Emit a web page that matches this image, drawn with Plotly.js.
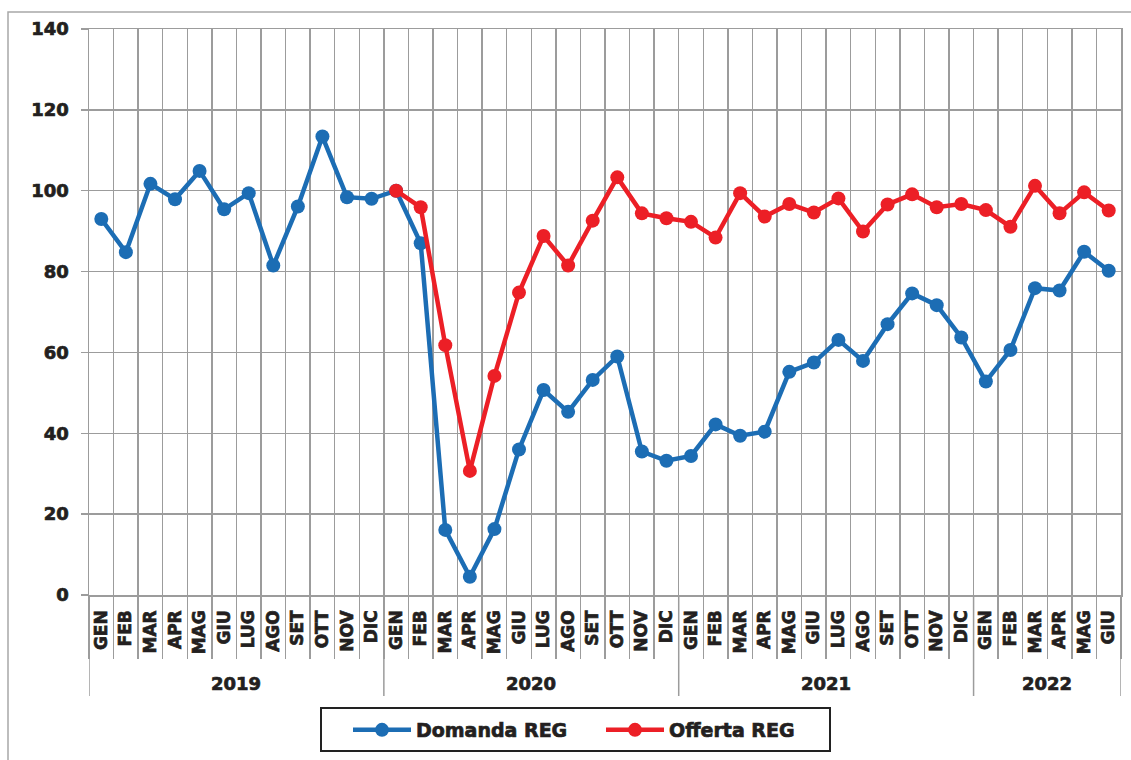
<!DOCTYPE html>
<html>
<head>
<meta charset="utf-8">
<script src="https://cdn.plot.ly/plotly-3.0.1.min.js"></script>
<style>
html,body{margin:0;padding:0;background:#fff;}
#chart{width:1131px;height:760px;}
#chart text{stroke:#231f20;stroke-width:0.7px;paint-order:stroke;}
</style>
</head>
<body>
<div id="chart"></div>
<script>
const months = ["GEN","FEB","MAR","APR","MAG","GIU","LUG","AGO","SET","OTT","NOV","DIC",
                "GEN","FEB","MAR","APR","MAG","GIU","LUG","AGO","SET","OTT","NOV","DIC",
                "GEN","FEB","MAR","APR","MAG","GIU","LUG","AGO","SET","OTT","NOV","DIC",
                "GEN","FEB","MAR","APR","MAG","GIU"];
const years = ["2019","2020","2021","2022"];
const yearCounts = [12,12,12,6];
const domanda = [93.0,84.8,101.7,97.9,104.9,95.4,99.4,81.5,96.1,113.4,98.4,98.0,
                 100.0,87.0,16.1,4.5,16.3,36.0,50.7,45.3,53.2,59.0,35.5,33.2,
                 34.4,42.2,39.4,40.4,55.2,57.5,63.1,57.9,67.0,74.6,71.7,63.7,
                 52.8,60.6,75.9,75.3,84.9,80.2];
const offerta = [null,null,null,null,null,null,null,null,null,null,null,null,
                 100.0,95.9,61.8,30.7,54.2,74.8,88.8,81.5,92.6,103.3,94.4,93.2,
                 92.3,88.4,99.4,93.6,96.7,94.6,98.1,89.9,96.6,99.1,95.9,96.7,
                 95.2,91.1,101.2,94.4,99.6,95.1];
const seriesNames = ["Domanda REG","Offerta REG"];
const yTicks = [0,20,40,60,80,100,120,140];

const idx = months.map((m,i)=>i);
const boundaries = [];
for (let i=0;i<=months.length;i++) boundaries.push(i-0.5);

const FONT = "DejaVu Sans, Liberation Sans, sans-serif";
const GRID = "#9c9c9c";
const TXT = "#231f20";

const traces = [
  {x: idx, y: domanda, name: seriesNames[0], type:"scatter", mode:"lines+markers",
   line:{color:"#1c6db4", width:4.5}, marker:{color:"#1c6db4", size:14}},
  {x: idx, y: offerta, name: seriesNames[1], type:"scatter", mode:"lines+markers",
   line:{color:"#ec1f26", width:4.5}, marker:{color:"#ec1f26", size:14}}
];

const annotations = [];
const shapes = [];
let start = 0;
const yearDivBottom = (595-696)/566;
shapes.push({type:"line", xref:"x", yref:"paper", x0:-0.5, x1:-0.5, y0:0, y1:yearDivBottom, line:{color:GRID,width:1.5}});
years.forEach((yr,k)=>{
  const end = start + yearCounts[k];
  annotations.push({x:(start+end-1)/2, xref:"x", y:(595-683)/566, yref:"paper", text:"<b>"+yr+"</b>",
    showarrow:false, xanchor:"center", yanchor:"middle", font:{family:FONT, size:18, color:TXT}});
  shapes.push({type:"line", xref:"x", yref:"paper", x0:end-0.5, x1:end-0.5, y0:0, y1:yearDivBottom, line:{color:GRID,width:1.5}});
  start = end;
});
// outer frame
shapes.push({type:"rect", xref:"paper", yref:"paper", x0:(8-89)/1032, x1:(1140-89)/1032,
  y0:(595-780)/566, y1:(595-12)/566, line:{color:"#a8a8a8", width:1.5}, fillcolor:"rgba(0,0,0,0)"});
// legend box
shapes.push({type:"rect", xref:"paper", yref:"paper", x0:(321-89)/1032, x1:(830-89)/1032,
  y0:(595-751)/566, y1:(595-708)/566, line:{color:"#222", width:2}, fillcolor:"#fff"});

const layout = {
  width:1131, height:760,
  margin:{l:89, r:10, t:29, b:165},
  paper_bgcolor:"#fff", plot_bgcolor:"#fff",
  showlegend:true,
  font:{family:FONT, color:TXT},
  xaxis:{
    type:"linear", range:[-0.5, months.length-0.5], fixedrange:true,
    tickmode:"array", tickvals:idx, ticktext:months.map(m=>"<b>"+m+"</b>"),
    tickangle:-90, ticks:"", showgrid:false, zeroline:false,
    tickfont:{family:FONT, size:17, color:TXT},
    ticklabelstandoff:7,
    showline:true, linecolor:GRID, linewidth:1.5, mirror:true,
    minor:{tickmode:"array", tickvals:boundaries, showgrid:true, gridcolor:GRID, gridwidth:1.5,
           ticks:"outside", ticklen:62, tickcolor:GRID, tickwidth:1.5}
  },
  yaxis:{
    range:[0,140], tickmode:"array", tickvals:yTicks, ticktext:yTicks.map(v=>"<b>"+v+"</b>"),
    showgrid:true, gridcolor:GRID, gridwidth:1.5, zeroline:false,
    ticks:"outside", ticklen:7, tickcolor:GRID, tickwidth:1.5,
    showline:true, linecolor:GRID, linewidth:1.5, mirror:true,
    tickfont:{family:FONT, size:18, color:TXT}, ticklabelstandoff:8, fixedrange:true
  },
  legend:{orientation:"h", x:(348-89)/1032, xanchor:"left", y:(595-711)/566, yanchor:"top",
    borderwidth:0, bgcolor:"rgba(0,0,0,0)",
    font:{family:FONT, size:19, color:TXT, weight:700},
    itemwidth:58, entrywidth:180, tracegroupgap:0},
  annotations: annotations,
  shapes: shapes
};

Plotly.newPlot("chart", traces, layout, {staticPlot:true, displayModeBar:false});
</script>
</body>
</html>
